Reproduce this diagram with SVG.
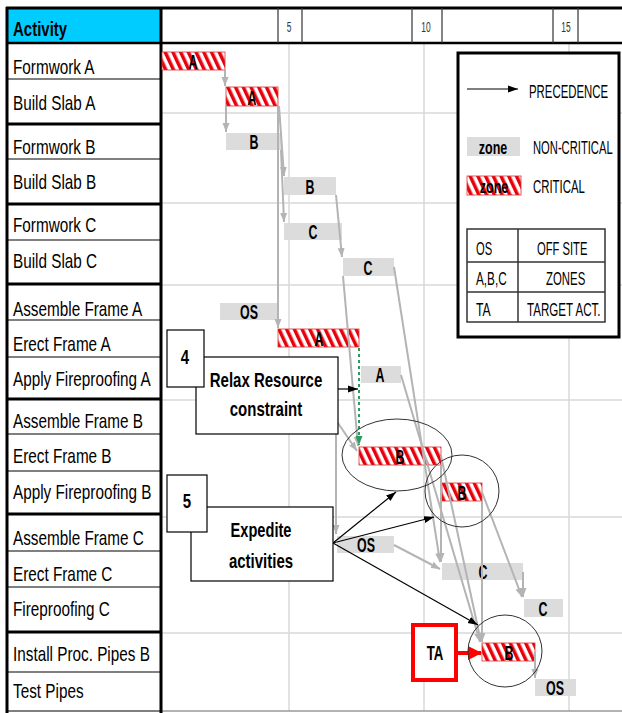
<svg xmlns="http://www.w3.org/2000/svg" width="622" height="713" viewBox="0 0 622 713">
<style>
.t{font-family:"Liberation Sans",Arial,sans-serif;fill:#000}
.row{font-size:20px}
.lbl{font-size:20px;font-weight:bold;text-anchor:middle}
.num{font-size:14px;fill:#333;text-anchor:middle}
.call{font-size:20px;font-weight:bold;text-anchor:middle}
.leg{font-size:19px}
.grid{stroke:#d8d8d8;stroke-width:1.5}
.thin{stroke:#000;stroke-width:1.2}
.thick{stroke:#000;stroke-width:3}
.gray{fill:#dcdcdc}
.crit{fill:url(#hatch);stroke:#d33;stroke-width:0.8}
.ga{stroke:#b4b4b4;stroke-width:2;fill:none;marker-end:url(#ag)}
.ba{stroke:#000;stroke-width:1.2;fill:none;marker-end:url(#ab)}
.box{fill:#fff;stroke:#000;stroke-width:1.2}
.ell{fill:none;stroke:#333;stroke-width:1}
</style>
<defs>
<pattern id="hatch" patternUnits="userSpaceOnUse" width="7" height="7" patternTransform="rotate(-25)">
<rect width="7" height="7" fill="#fff"/><rect width="3.5" height="7" fill="#e8000b"/>
</pattern>
<marker id="ag" markerUnits="userSpaceOnUse" markerWidth="10" markerHeight="8" refX="9" refY="4" orient="auto"><path d="M0,0.5 L9,4 L0,7.5 z" fill="#b4b4b4"/></marker>
<marker id="ab" markerUnits="userSpaceOnUse" markerWidth="10" markerHeight="8" refX="10" refY="4" orient="auto"><path d="M0,0.5 L10,4 L0,7.5 z" fill="#000"/></marker>
<marker id="agr" markerUnits="userSpaceOnUse" markerWidth="10" markerHeight="8" refX="9" refY="4" orient="auto"><path d="M0,0.5 L9,4 L0,7.5 z" fill="#2e9b5e"/></marker>
<marker id="ar" markerUnits="userSpaceOnUse" markerWidth="14" markerHeight="14" refX="13" refY="7" orient="auto"><path d="M0,0 L14,7 L0,14 z" fill="#f00"/></marker>
</defs>
<rect width="622" height="713" fill="#fff"/>
<g id="grid">
<line class="grid" x1="289" y1="43" x2="289" y2="711"/>
<line class="grid" x1="424" y1="43" x2="424" y2="711"/>
<line class="grid" x1="569" y1="43" x2="569" y2="711"/>
<line class="grid" x1="161" y1="113" x2="622" y2="113"/>
<line class="grid" x1="161" y1="203" x2="622" y2="203"/>
<line class="grid" x1="161" y1="285" x2="622" y2="285"/>
<line class="grid" x1="161" y1="400" x2="622" y2="400"/>
<line class="grid" x1="161" y1="517" x2="622" y2="517"/>
<line class="grid" x1="161" y1="633" x2="622" y2="633"/>
<line x1="161" y1="711" x2="622" y2="711" stroke="#999" stroke-width="1.5"/>
</g>
<g id="table">
<rect x="8" y="9" width="152" height="34" fill="#00ccff"/>
<line class="thick" x1="6" y1="8" x2="622" y2="8"/>
<line x1="6" y1="43" x2="622" y2="43" stroke="#000" stroke-width="2.5"/>
<line class="thick" x1="7" y1="7" x2="7" y2="713"/>
<line class="thick" x1="161" y1="7" x2="161" y2="713"/>
<g class="thin">
<line x1="7" y1="79" x2="161" y2="79"/><line x1="7" y1="159" x2="161" y2="159"/>
<line x1="7" y1="240" x2="161" y2="240"/><line x1="7" y1="320" x2="161" y2="320"/>
<line x1="7" y1="357" x2="161" y2="357"/><line x1="7" y1="434" x2="161" y2="434"/>
<line x1="7" y1="471" x2="161" y2="471"/><line x1="7" y1="551" x2="161" y2="551"/>
<line x1="7" y1="587" x2="161" y2="587"/><line x1="7" y1="672" x2="161" y2="672"/>
<line x1="7" y1="711" x2="161" y2="711"/>
</g>
<g class="thick">
<line x1="7" y1="124" x2="161" y2="124"/><line x1="7" y1="204" x2="161" y2="204"/>
<line x1="7" y1="284" x2="161" y2="284"/><line x1="7" y1="399" x2="161" y2="399"/>
<line x1="7" y1="514" x2="161" y2="514"/><line x1="7" y1="632" x2="161" y2="632"/>
</g>
<g stroke="#333" stroke-width="1.2">
<line x1="278" y1="8" x2="278" y2="43"/><line x1="302" y1="8" x2="302" y2="43"/>
<line x1="412" y1="8" x2="412" y2="43"/><line x1="442" y1="8" x2="442" y2="43"/>
<line x1="553" y1="8" x2="553" y2="43"/><line x1="578" y1="8" x2="578" y2="43"/>
</g>
<text class="t num" transform="translate(289,32) scale(0.6,1)">5</text>
<text class="t num" transform="translate(426,32) scale(0.6,1)">10</text>
<text class="t num" transform="translate(566,32) scale(0.6,1)">15</text>
<text class="t row" font-weight="bold" transform="translate(13,36) scale(0.75,1)">Activity</text>
<text class="t row" transform="translate(13,74) scale(0.765,1)">Formwork A</text>
<text class="t row" transform="translate(13,110) scale(0.765,1)">Build Slab A</text>
<text class="t row" transform="translate(13,154) scale(0.765,1)">Formwork B</text>
<text class="t row" transform="translate(13,189) scale(0.765,1)">Build Slab B</text>
<text class="t row" transform="translate(13,232) scale(0.765,1)">Formwork C</text>
<text class="t row" transform="translate(13,268) scale(0.765,1)">Build Slab C</text>
<text class="t row" transform="translate(13,316) scale(0.765,1)">Assemble Frame A</text>
<text class="t row" transform="translate(13,351) scale(0.765,1)">Erect Frame A</text>
<text class="t row" transform="translate(13,386) scale(0.765,1)">Apply Fireproofing A</text>
<text class="t row" transform="translate(13,428) scale(0.765,1)">Assemble Frame B</text>
<text class="t row" transform="translate(13,463) scale(0.765,1)">Erect Frame B</text>
<text class="t row" transform="translate(13,499) scale(0.765,1)">Apply Fireproofing B</text>
<text class="t row" transform="translate(13,545) scale(0.765,1)">Assemble Frame C</text>
<text class="t row" transform="translate(13,581) scale(0.765,1)">Erect Frame C</text>
<text class="t row" transform="translate(13,616) scale(0.765,1)">Fireproofing C</text>
<text class="t row" transform="translate(13,661) scale(0.765,1)">Install Proc. Pipes B</text>
<text class="t row" transform="translate(13,698) scale(0.765,1)">Test Pipes</text>
</g>
<g id="bar-formwork-a"><rect class="crit" x="162" y="52" width="63" height="18"/><text class="t lbl" transform="translate(193,69) scale(0.62,1)">A</text></g>
<g id="bar-build-slab-a"><rect class="crit" x="226" y="87" width="52" height="19"/><text class="t lbl" transform="translate(252,105) scale(0.62,1)">A</text></g>
<g id="bar-formwork-b"><rect class="gray" x="226" y="133" width="56" height="17"/><text class="t lbl" transform="translate(254,149) scale(0.62,1)">B</text></g>
<g id="bar-build-slab-b"><rect class="gray" x="284" y="177" width="52" height="18"/><text class="t lbl" transform="translate(310,194) scale(0.62,1)">B</text></g>
<g id="bar-formwork-c"><rect class="gray" x="284" y="223" width="58" height="17"/><text class="t lbl" transform="translate(313,239) scale(0.62,1)">C</text></g>
<g id="bar-build-slab-c"><rect class="gray" x="343" y="258" width="51" height="18"/><text class="t lbl" transform="translate(368,275) scale(0.62,1)">C</text></g>
<g id="bar-assemble-frame-a"><rect class="gray" x="220" y="303" width="57" height="17"/><text class="t lbl" transform="translate(249,319) scale(0.62,1)">OS</text></g>
<g id="bar-erect-frame-a"><rect class="crit" x="278" y="329" width="81" height="18"/><text class="t lbl" transform="translate(319,346) scale(0.62,1)">A</text></g>
<g id="bar-fireproofing-a"><rect class="gray" x="361" y="366" width="40" height="17"/><text class="t lbl" transform="translate(380,382) scale(0.62,1)">A</text></g>
<g id="bar-erect-frame-b"><rect class="crit" x="359" y="447" width="82" height="18"/><text class="t lbl" transform="translate(400,464) scale(0.62,1)">B</text></g>
<g id="bar-fireproofing-b"><rect class="crit" x="442" y="483" width="40" height="18"/><text class="t lbl" transform="translate(462,500) scale(0.62,1)">B</text></g>
<g id="bar-assemble-frame-c"><rect class="gray" x="337" y="536" width="57" height="17"/><text class="t lbl" transform="translate(366,552) scale(0.62,1)">OS</text></g>
<g id="bar-erect-frame-c"><rect class="gray" x="442" y="563" width="81" height="17"/><text class="t lbl" transform="translate(483,579) scale(0.62,1)">C</text></g>
<g id="bar-fireproofing-c"><rect class="gray" x="524" y="599" width="39" height="18"/><text class="t lbl" transform="translate(543,616) scale(0.62,1)">C</text></g>
<g id="bar-install-pipes-b"><rect class="crit" x="482" y="643" width="53" height="18"/><text class="t lbl" transform="translate(509,660) scale(0.62,1)">B</text></g>
<g id="bar-test-pipes"><rect class="gray" x="535" y="679" width="41" height="17"/><text class="t lbl" transform="translate(555,695) scale(0.62,1)">OS</text></g>
<g id="connectors">
<path class="ga" d="M225,70 L225,86"/>
<path class="ga" d="M226,106 L226,132"/>
<path class="ga" d="M278,106 L278,328"/>
<path class="ga" d="M279,106 L284,176"/>
<path class="ga" d="M281,150 L284,222"/>
<path class="ga" d="M336,195 L342,257"/>
<path class="ga" d="M343,276 L358,446"/>
<path class="ga" d="M394,267 L440,562"/>
<path class="ga" d="M401,375 L480,642"/>
<path class="ga" d="M441,465 L441,562"/>
<path class="ga" d="M441,456 L481,642"/>
<path class="ga" d="M482,501 L482,642"/>
<path class="ga" d="M482,492 L522,597"/>
<path class="ga" d="M523,572 L523,597"/>
<path class="ga" d="M535,652 L535,678"/>
<path class="ga" d="M394,545 L440,569"/>
<path class="ga" d="M336,400 L336,534"/>
<path class="ga" d="M325,404 L357,451"/>
<path d="M359,348 L359,445" stroke="#2e9b5e" stroke-width="2" stroke-dasharray="3,3" fill="none" marker-end="url(#agr)"/>
<path class="ba" d="M338,389 L358,389"/>
<path class="ba" d="M333,543 L396,492"/>
<path class="ba" d="M333,543 L434,517"/>
<path class="ba" d="M333,543 L478,625"/>
<path d="M458,653 L481,653" stroke="#f00" stroke-width="4" fill="none" marker-end="url(#ar)"/>
</g>
<g id="highlights">
<ellipse class="ell" cx="397" cy="455" rx="55" ry="36"/>
<ellipse class="ell" cx="462" cy="491" rx="37" ry="36"/>
<ellipse class="ell" cx="505" cy="651" rx="37" ry="36"/>
</g>
<g id="callout-4">
<rect class="box" x="196" y="357" width="142" height="77"/>
<rect class="box" x="167" y="330" width="37" height="57"/>
<text class="t call" font-size="24" transform="translate(185,364) scale(0.75,1)">4</text>
<text class="t call" transform="translate(266,387) scale(0.75,1)">Relax Resource</text>
<text class="t call" transform="translate(266,416) scale(0.75,1)">constraint</text>
</g>
<g id="callout-5">
<rect class="box" x="191" y="507" width="142" height="74"/>
<rect class="box" x="167" y="475" width="40" height="57"/>
<text class="t call" font-size="24" transform="translate(187,508) scale(0.75,1)">5</text>
<text class="t call" transform="translate(261,537) scale(0.73,1)">Expedite</text>
<text class="t call" transform="translate(261,568) scale(0.75,1)">activities</text>
</g>
<g id="target-activity">
<rect x="413" y="625" width="43" height="55" fill="#fff" stroke="#f00" stroke-width="4"/>
<text class="t call" font-size="22" transform="translate(435,660) scale(0.66,1)">TA</text>
</g>
<g id="legend">
<rect x="458" y="53" width="161" height="284" fill="#fff" stroke="#000" stroke-width="3"/>
<path class="ba" d="M467,89 L518,89"/>
<text class="t leg" transform="translate(529,98) scale(0.6,1)">PRECEDENCE</text>
<rect class="gray" x="467" y="137" width="53" height="19"/>
<text class="t leg" font-weight="bold" font-size="20" transform="translate(493,154) scale(0.66,1)" text-anchor="middle">zone</text>
<text class="t leg" transform="translate(533,154) scale(0.59,1)">NON-CRITICAL</text>
<rect class="crit" x="467" y="176" width="54" height="19"/>
<text class="t leg" font-weight="bold" font-size="20" transform="translate(494,193) scale(0.66,1)" text-anchor="middle">zone</text>
<text class="t leg" transform="translate(533,193) scale(0.6,1)">CRITICAL</text>
<g fill="none" stroke="#333" stroke-width="1.5">
<rect x="467" y="229" width="138" height="93"/>
<line x1="467" y1="262" x2="605" y2="262"/>
<line x1="467" y1="292" x2="605" y2="292"/>
<line x1="518" y1="229" x2="518" y2="322"/>
</g>
<text class="t leg" transform="translate(476,255) scale(0.59,1)">OS</text>
<text class="t leg" transform="translate(537,255) scale(0.59,1)">OFF SITE</text>
<text class="t leg" transform="translate(476,285) scale(0.62,1)">A,B,C</text>
<text class="t leg" transform="translate(546,285) scale(0.6,1)">ZONES</text>
<text class="t leg" transform="translate(476,316) scale(0.64,1)">TA</text>
<text class="t leg" transform="translate(527,316) scale(0.61,1)">TARGET ACT.</text>
</g>
</svg>
